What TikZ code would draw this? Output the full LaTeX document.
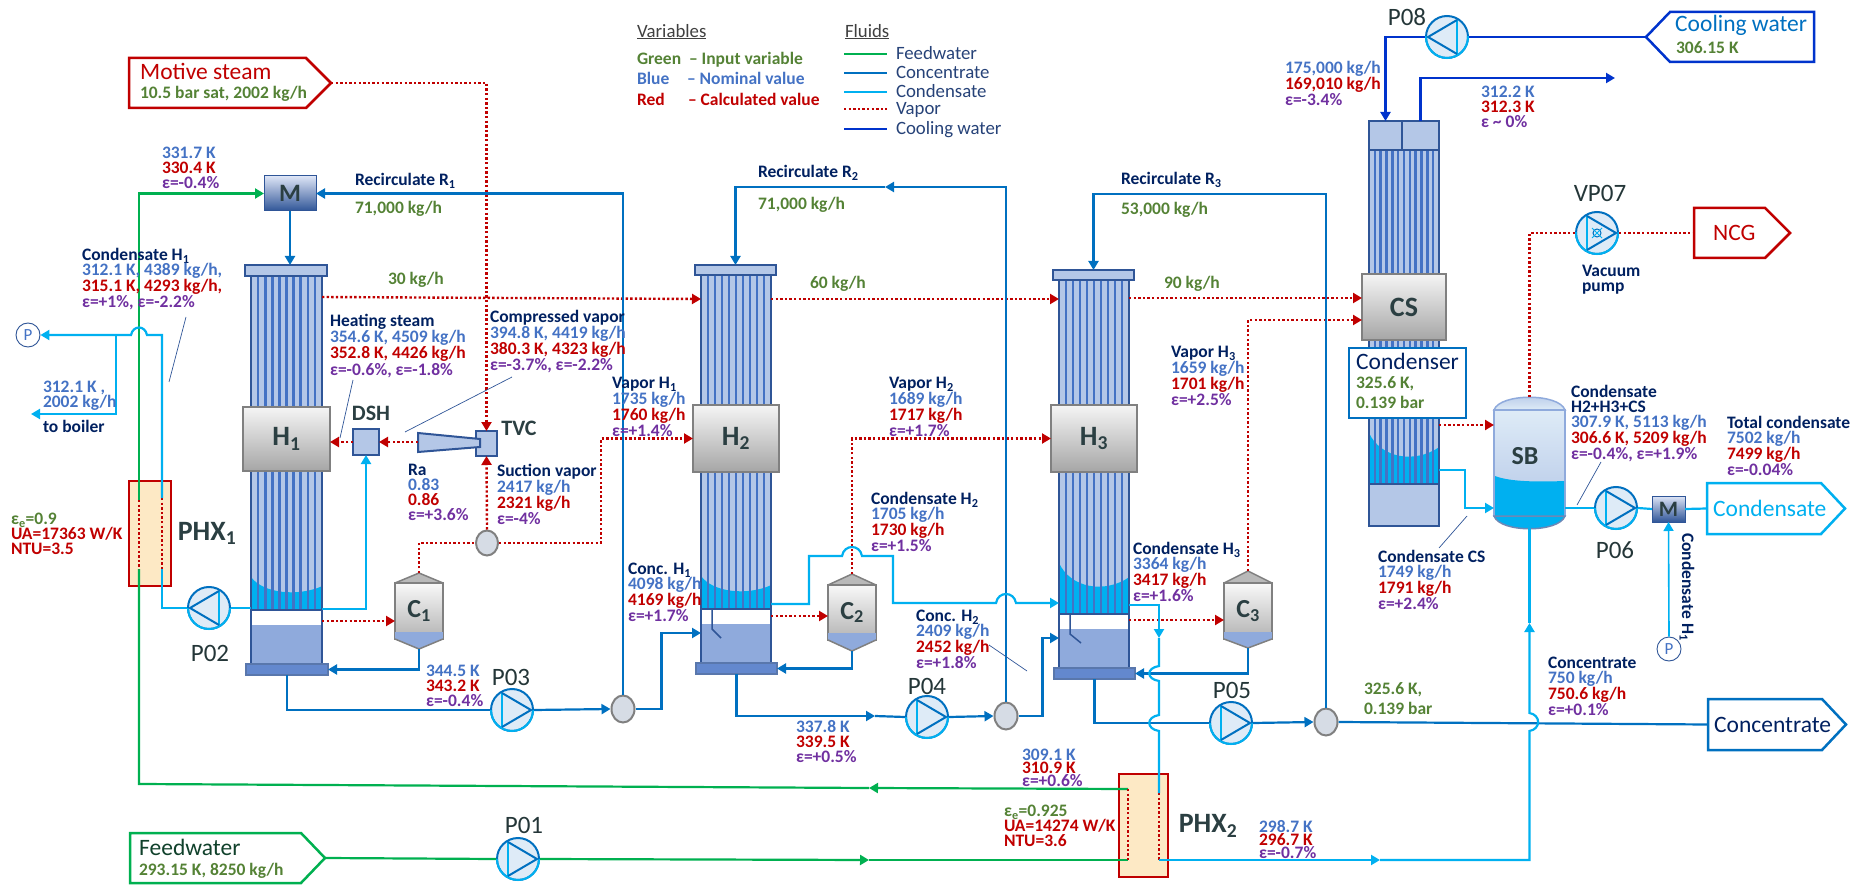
\documentclass[tikz,border=0pt]{standalone}
\usepackage{fontspec}
\setmainfont{Carlito}
\usetikzlibrary{arrows.meta,calc,shapes.geometric}

\definecolor{feedgreen}{HTML}{00B050}
\definecolor{concblue}{HTML}{0070C0}
\definecolor{condcyan}{HTML}{00B0F0}
\definecolor{coolblue}{HTML}{0033CC}
\definecolor{vapred}{HTML}{C00000}
\definecolor{inpgreen}{HTML}{548235}
\definecolor{nomblue}{HTML}{4472C4}
\definecolor{errpurple}{HTML}{7030A0}
\definecolor{navytxt}{HTML}{002060}
\definecolor{eqdark}{HTML}{2B3F42}
\definecolor{edgeblue}{HTML}{2F5597}
\definecolor{tubelight}{HTML}{B4C7E7}
\definecolor{sumpblue}{HTML}{8FAADC}
\definecolor{baseblue}{HTML}{6388CE}
\definecolor{pumpfill}{HTML}{DEEBF7}
\definecolor{splitfill}{HTML}{D6DCE5}

\tikzset{
	feedline/.style={color=feedgreen,line width=2.2pt},
	concline/.style={color=concblue,line width=2.2pt},
	condline/.style={color=condcyan,line width=2.2pt},
	coolline/.style={color=coolblue,line width=2.2pt},
	vapline/.style={color=vapred,line width=2.4pt,dash pattern=on 2.4pt off 2.2pt},
	flow/.style={-{Triangle[length=9pt,width=10pt]}},
	leader/.style={color=edgeblue,line width=0.7pt},
	lbl/.style={anchor=north west,inner sep=0pt,outer sep=0pt,align=left,font=\fontsize{17.5}{15}\selectfont},
	tight/.style={font=\fontsize{17.5}{13}\selectfont},
	wide/.style={font=\fontsize{17.5}{20}\selectfont},
	legtxt/.style={font=\fontsize{18.8}{15}\selectfont},
	bigtxt/.style={anchor=base west,inner sep=0pt,font=\fontsize{23.5}{25}\selectfont},
	tagp/.style={inner sep=0pt,text=eqdark!85!black,font=\fontsize{25}{27}\selectfont},
	eqtxt/.style={inner sep=0pt,text=eqdark,font=\fontsize{28}{30}\selectfont\bfseries},
	headbox/.style={draw=edgeblue,fill=tubelight,line width=2pt},
	basebox/.style={draw=edgeblue!80,fill=baseblue,line width=1.5pt},
	greybox/.style={draw=gray,line width=2pt,top color=gray!8,bottom color=gray!70},
	mixbox/.style={draw=edgeblue,line width=1pt,top color=blue!5!tubelight!40,bottom color=edgeblue},
	splitter/.style={ellipse,draw=gray,fill=splitfill,line width=2pt,inner sep=0pt,minimum width=23pt,minimum height=27pt},
	pumpbody/.style={circle,draw=concblue,fill=pumpfill,line width=2pt,inner sep=0pt,minimum size=42pt},
	probe/.style={circle,draw=edgeblue,fill=white,line width=0.9pt,inner sep=0pt,minimum size=24pt,text=nomblue,font=\fontsize{17}{18}\selectfont},
	hxbox/.style={draw=vapred,fill=yellow!20!orange!20,line width=2.5pt},
}

\newcommand{\boxat}[7]{
	\pgfmathsetmacro\bw{(#5)-(#3)}
	\pgfmathsetmacro\bh{(#6)-(#4)}
	\node[#2,anchor=north west,inner sep=0pt,outer sep=0pt,minimum width=\bw pt,minimum height=\bh pt] (#1) at (#3,#4) {#7};
}
\newcommand{\stack}[5][]{\node[lbl,#1] (#2) at (#3,#4-7.5) {\rule{0pt}{13pt}#5};}
\newcommand{\ttl}[1]{{\color{navytxt}\bfseries #1}}
\newcommand{\nomv}[1]{{\color{nomblue}\bfseries #1}}
\newcommand{\calv}[1]{{\color{vapred}\bfseries #1}}
\newcommand{\errv}[1]{{\color{errpurple}\bfseries #1}}
\newcommand{\inpv}[1]{{\color{inpgreen}\bfseries #1}}
\newcommand{\pump}[4][1]{
	\node[pumpbody] (#2) at (#3,#4) {};
	\begin{scope}
		\clip (#3-25,#4) rectangle (#3+25,#4+25);
		\draw[condcyan,line width=2pt] (#2) circle[radius=21pt];
	\end{scope}
	\begin{scope}[shift={(#2)},xscale=#1]
		\draw[condcyan,line width=2pt] (-10,-17) -- (-10,17);
		\draw[concblue,line width=2pt] (-10,-17) -- (19,0) -- (-10,17);
	\end{scope}
}
\newcommand{\tubes}[7]{
	\boxat{#1}{draw=none,fill=tubelight}{#2}{#3}{#4}{#5}{}
	\fill[condcyan] (#2,#5-#7) .. controls (#2+12,{#5-0.5*#7}) and (#4-24,{#5-0.4*#7}) .. (#4,{#5-0.72*#7}) -- (#4,#5) -- (#2,#5) -- cycle;
	\foreach \i in {1,...,#6}
		\draw[nomblue,line width=2.6pt] ({#2+\i*(#4-#2)/(#6+1)},#3) -- ({#2+\i*(#4-#2)/(#6+1)},#5);
	\draw[edgeblue,line width=2pt] (#2,#3) -- (#2,#5) -- (#4,#5) -- (#4,#3);
}
\newcommand{\effect}[9]{
	\tubes{H#1tube}{#2}{#5}{#3}{#8}{9}{#9}
	\boxat{H#1head}{headbox}{#2-6}{#4}{#3+5}{#5}{}
	\boxat{H#1}{greybox,eqtxt}{#2-8}{#6}{#3+8}{#7}{H\textsubscript{#1}\hspace{10pt}}
	\boxat{H#1sump}{draw=edgeblue,fill=white,line width=2pt}{#2}{#8}{#3}{#8+54}{}
	\fill[sumpblue] (#2+1,#8+15) rectangle (#3-1,#8+53);
	\boxat{H#1base}{basebox}{#2-5}{#8+54}{#3+6}{#8+65}{}
}
\newcommand{\sep}[6]{
	\fill[gray!55] (#2-24,#4) -- (#2,#3) -- (#2+24,#4) -- cycle;
	\draw[gray,line width=1.5pt] (#2-24,#4) -- (#2,#3) -- (#2+24,#4);
	\coordinate (C#1top) at (#2,#3);
	\boxat{C#1}{draw=gray,line width=1.5pt,top color=gray!5,bottom color=gray!60}{#2-24}{#4}{#2+24}{#5}{}
	\fill[sumpblue] (#2-24,#5-7) rectangle (#2+24,#5);
	\fill[sumpblue] (#2-24,#5) -- (#2,#6) -- (#2+24,#5) -- cycle;
	\draw[gray,line width=1.5pt] (#2-24,#5) -- (#2,#6) -- (#2+24,#5);
	\coordinate (C#1bot) at (#2,#6);
	\node[eqtxt,font=\fontsize{26}{28}\selectfont\bfseries] (C#1txt) at (#2,{(#4+#5)/2}) {C\textsubscript{#1}};
}
\newcommand{\outbox}[7]{
	\draw[#2,line width=2.5pt,fill=white] (#3,#4) -- (#5,#4) -- (#6,{(#4+#7)/2}) -- (#5,#7) -- (#3,#7) -- cycle;
	\coordinate (#1) at (#6,{(#4+#7)/2});
	\coordinate (#1b) at (#3,{(#4+#7)/2});
}

\begin{document}
\begin{tikzpicture}[x=1pt,y=-1pt]
	\useasboundingbox (0,0) rectangle (1875,885);

	\effect{1}{251}{322}{265}{276}{407}{471}{610}{33}
	\effect{2}{701}{771}{265}{275}{405}{472}{609}{33}
	\effect{3}{1059}{1129}{270}{280}{405}{472}{614}{51}
	\draw[edgeblue,line width=1.5pt] (712,610) -- (712,629) -- (721,638);
	\draw[edgeblue,line width=1.5pt] (1070,615) -- (1070,634) -- (1081,643);

	\sep{1}{419}{573}{583}{639}{649}
	\sep{2}{852}{574}{585}{640}{651}
	\sep{3}{1248}{571}{583}{639}{648}

	\tubes{CStube}{1369}{150}{1439}{484}{11}{51}
	\boxat{CSh1}{headbox}{1369}{121}{1402}{150}{}
	\boxat{CSh2}{headbox}{1402}{121}{1439}{150}{}
	\boxat{CS}{greybox,eqtxt}{1362}{274}{1446}{340}{CS}
	\boxat{CSsump}{draw=edgeblue,fill=tubelight,line width=2pt}{1369}{484}{1439}{526}{}
	\boxat{Condenser}{draw=concblue,fill=white,line width=2.5pt}{1349}{348}{1466}{418}{}

	\boxat{SB}{draw=none}{1494}{397}{1565}{528}{}
	\draw[sumpblue,line width=1.5pt,top color=tubelight,bottom color=pumpfill] (1494,410) .. controls (1500,393) and (1559,393) .. (1565,410) -- cycle;
	\boxat{SBbody}{draw=sumpblue,line width=2pt,top color=pumpfill,bottom color=tubelight}{1494}{410}{1565}{516}{}
	\fill[condcyan] (1495,476) .. controls (1510,482) and (1540,482) .. (1564,481) -- (1564,516) -- (1495,516) -- cycle;
	\draw[edgeblue!70,line width=1.5pt,fill=condcyan] (1494,516) .. controls (1500,533) and (1559,533) .. (1565,516) -- cycle;
	\node[eqtxt,font=\fontsize{26}{28}\selectfont\bfseries] (SBtxt) at (1525,456) {SB};

	\boxat{M1}{mixbox,eqtxt,font=\fontsize{25}{27}\selectfont\bfseries}{264}{176}{316}{211}{M}
	\boxat{M2}{mixbox,eqtxt,font=\fontsize{22}{24}\selectfont\bfseries}{1652}{496}{1685}{522}{M}
	\boxat{DSH}{headbox}{353}{429}{379}{455}{}
	\boxat{TVC}{headbox}{476}{431}{497}{456}{}
	\draw[headbox] (418,433) -- (480,439) -- (480,447) -- (418,452) -- cycle;
	\coordinate (NZ) at (418,442);
	\boxat{PHX1}{hxbox}{129}{481}{171}{586}{}
	\boxat{PHX2}{hxbox}{1119}{774}{1168}{877}{}

	\outbox{bMotive}{vapred}{129}{58}{306}{331}{108}
	\outbox{bFeed}{feedgreen}{130}{833}{301}{325}{883}
	\outbox{bConc}{concblue}{1708}{699}{1822}{1846}{750}
	\outbox{bCond}{condcyan}{1707}{483}{1821}{1845}{534}
	\outbox{bNCG}{vapred}{1694}{208}{1765}{1790}{258}
	\draw[coolblue,line width=2.5pt] (1814,12) -- (1670,12) -- (1646,37) -- (1670,62) -- (1814,62) -- cycle;
	\coordinate (bCool) at (1646,37);

	\pump{P01}{518}{859}
	\pump[-1]{P02}{209}{608}
	\pump{P03}{512}{710}
	\pump{P04}{927}{717}
	\pump{P05}{1231}{723}
	\pump{P06}{1616}{508}
	\pump[-1]{P08}{1447}{37}
	\pump{VP07}{1597}{233}
	\draw[concblue,line width=1pt] (VP07) circle[radius=4pt];
	\draw[condcyan,line width=1pt] (1592,228) -- (1602,238) (1592,238) -- (1602,228);

	\node[splitter,minimum width=22pt,minimum height=25pt] (S0) at (487,543) {};
	\node[splitter] (SR1) at (623,709) {};
	\node[splitter] (SR2) at (1006,716) {};
	\node[splitter] (SR3) at (1326,722) {};
	\node[probe] (Pout) at (28,335) {P};
	\node[probe] (Pin) at (1669,649) {P};

	\coordinate (PHX1fo) at (139,500);
	\coordinate (PHX1fi) at (139,569);
	\coordinate (PHX1co) at (162,498);
	\coordinate (PHX1ci) at (162,569);
	\coordinate (PHX2fo) at (1128,789);
	\coordinate (PHX2fi) at (1128,860);
	\coordinate (PHX2ci) at (1159,793);
	\coordinate (PHX2co) at (1159,860);

	\draw[feedline] (bFeed) -- (P01.west);
	\coordinate (fa) at (869,860);
	\draw[feedline,flow] (P01.east) -- (fa);
	\draw[feedline] (fa) -- (PHX2fi);
	\coordinate (fb) at (869,788);
	\draw[feedline,flow] (PHX2fo) -- (fb);
	\draw[feedline] (fb) -- (139,784) -- (PHX1fi);
	\draw[feedline,flow] (PHX1fo) |- (M1.west);

	\foreach \a/\b in {PHX1fo/PHX1fi,PHX1co/PHX1ci,PHX2fo/PHX2fi,PHX2ci/PHX2co}
		\draw[vapline] (\a) -- (\b);

	\draw[vapline,flow] (bMotive) -| (TVC.north);
	\draw[vapline,flow] (H1tube.east |- 0,297) -- (H2tube.west |- 0,299);
	\draw[vapline,flow] (H2tube.east |- 0,299) -- (H3tube.west |- 0,299);
	\draw[vapline,flow] (H3tube.east |- 0,298) -- (CS.west |- 0,298);
	\draw[vapline,flow] (NZ) -- (DSH.east |- NZ);
	\draw[vapline,flow] (DSH.west |- NZ) -- (H1.east |- NZ);
	\draw[vapline,flow] (S0.north) -- (TVC.south);
	\draw[vapline] (C1top) |- (S0.west);
	\draw[vapline,flow] (S0.east) -- (601,543) |- (H2.west);
	\draw[vapline,flow] (C2top) |- (H3.west);
	\draw[vapline,flow] (C3top) |- (CS.west |- 0,320);
	\draw[vapline,flow] (H1sump.east |- 0,621) -- (C1.west |- 0,621);
	\draw[vapline,flow] (H2sump.east |- 0,616) -- (C2.west |- 0,616);
	\draw[vapline,flow] (H3sump.east |- 0,620) -- (C3.west |- 0,620);
	\draw[vapline,flow] (CStube.east |- 0,425) -- (SB.west |- 0,425);
	\draw[vapline] (SB.north) |- (VP07.west);
	\draw[vapline] (VP07.east) -- (bNCGb);

	\draw[concline,flow] (M1.south) -- (M1.south |- H1head.north);
	\draw[concline,flow] (SR1.north) |- (M1.east);
	\coordinate (ra) at (885,187);
	\draw[concline,flow] (SR2.north) |- (ra);
	\draw[concline,flow] (ra) -| (H2head.north);
	\draw[concline,flow] (SR3.north) |- (H3head.north |- 0,194) -- (H3head.north);
	\draw[concline] (H1base.south) |- (P03.west);
	\draw[concline,flow] (P03.east) -- (SR1.west);
	\draw[concline,flow] (SR1.east) -- ++(26,0) |- (H2sump.west |- 0,633);
	\coordinate (pa) at (875,716);
	\draw[concline,flow] (H2base.south) |- (pa);
	\draw[concline] (pa) -- (P04.west);
	\draw[concline,flow] (P04.east) -- (SR2.west);
	\draw[concline,flow] (SR2.east) -- ++(24,0) |- (H3sump.west |- 0,638);
	\draw[concline] (H3base.south) |- (P05.west);
	\draw[concline,flow] (P05.east) -- (SR3.west);
	\draw[concline] (SR3.east) -- (bConcb);
	\draw[concline,flow] (C1bot) |- (H1base.east);
	\draw[concline,flow] (C2bot) |- (H2base.east);
	\draw[concline,flow] (C3bot) |- (H3base.east);

	\draw[condline] (H1tube.west |- P02.east) -- (P02.east);
	\draw[condline] (P02.west) -| (PHX1ci);
	\coordinate (ba) at (116,335);
	\draw[condline,flow] (PHX1co) -- (162,335) -- (147,335) .. controls (145,325) and (133,325) .. (131,335) -- (Pout.east);
	\draw[condline,flow] (ba) |- (31,414);
	\draw[condline,flow] (H1tube.east |- 0,609) -| (DSH.south);
	\draw[condline,flow] (H2tube.east |- 0,604) -- (809,604) -- (809,556) -- (842,556) .. controls (844,544) and (860,544) .. (862,556) -- (893,556) -- (893,603) -- (996,603) .. controls (998,591) and (1014,591) .. (1016,603) -- (H3tube.west |- 0,603);
	\coordinate (ca) at (1159,638);
	\draw[condline,flow] (H3tube.east |- 0,605) -| (ca);
	\draw[condline] (ca) -- (1159,666) .. controls (1146,668) and (1146,679) .. (1159,681) -- (1159,715) .. controls (1146,717) and (1146,729) .. (1159,731) -- (PHX2ci);
	\coordinate (cb) at (1380,860);
	\draw[condline,flow] (PHX2co) -- (cb);
	\coordinate (cc) at (1529.5,623);
	\draw[condline,flow] (cb) -- (1529.5,860) -- (1529.5,731) .. controls (1541,729) and (1541,715) .. (1529.5,713) -- (cc);
	\draw[condline] (cc) -- (SB.south);
	\draw[condline,flow] (CStube.east |- 0,470) -- (1465,470) |- (SB.west |- 0,508);
	\draw[condline] (SB.east |- P06.west) -- (P06.west);
	\draw[condline] (P06.east) -- (M2.west);
	\draw[condline] (M2.east) -- (bCondb);
	\draw[condline,line width=1.6pt,flow] (Pin.north) -- (M2.south);

	\draw[coolline] (bCool) -- (P08.east);
	\coordinate (wa) at (1615,78);
	\draw[coolline,flow] (P08.west) -| (CSh1.north);
	\draw[coolline,flow] (CSh2.north) |- (wa);

	\coordinate (ld1a) at (186,317);
	\coordinate (ld1b) at (169,382);
	\coordinate (ld2a) at (353,380);
	\coordinate (ld2b) at (340,438);
	\coordinate (ld3a) at (512,377);
	\coordinate (ld3b) at (405,432);
	\coordinate (ld4a) at (989,645);
	\coordinate (ld4b) at (1027,671);
	\coordinate (ld5a) at (1467,516);
	\coordinate (ld5b) at (1439,548);
	\coordinate (ld6a) at (1601,462);
	\coordinate (ld6b) at (1577,505);
	\foreach \i in {1,...,6}
		\draw[leader] (ld\i a) -- (ld\i b);

	\node[bigtxt,text=vapred] (tMotive) at (140,80) {Motive steam};
	\stack{tMotiveA}{140}{93}{\inpv{10.5 bar sat, 2002 kg/h}}
	\node[bigtxt,text=eqdark!60!feedgreen!60!black] (tFeed) at (139,855) {Feedwater};
	\stack{tFeedA}{139}{870}{\inpv{293.15 K, 8250 kg/h}}
	\node[bigtxt,text=navytxt] (tConc) at (1714,732) {Concentrate};
	\node[bigtxt,text=condcyan] (tCond) at (1713,516) {Condensate};
	\node[bigtxt,text=vapred] (tNCG) at (1713,241) {NCG};
	\node[bigtxt,text=concblue] (tCool) at (1675,32) {Cooling water};
	\stack{tCoolA}{1676}{48}{\inpv{306.15 K}}
	\node[bigtxt,text=navytxt] (tCondenser) at (1356,370) {Condenser};
	\stack[wide]{tCondA}{1356}{383}{\inpv{325.6 K,}\\\inpv{0.139 bar}}

	\node[eqtxt] (tPHX1) at (207,533) {PHX\textsubscript{1}};
	\node[eqtxt] (tPHX2) at (1208,826) {PHX\textsubscript{2}};
	\node[eqtxt,font=\fontsize{22}{24}\selectfont\bfseries] (tDSH) at (371,413) {DSH};
	\node[eqtxt,font=\fontsize{22}{24}\selectfont\bfseries] (tTVC) at (519,428) {TVC};
	\foreach \n/\x/\y in {P01/524/825,P02/210/653,P03/511/677,P04/927/686,P05/1232/690,P06/1615/550,P08/1407/17,VP07/1600/193}
		\node[tagp] (t\n) at (\x,\y) {\n};

	\stack{lb01}{162}{153}{\nomv{331.7 K}\\\calv{330.4 K}\\\errv{ε=-0.4\%}}
	\stack{lb02}{355}{180}{\ttl{Recirculate R\textsubscript{1}}}
	\stack{lb03}{355}{208}{\inpv{71,000 kg/h}}
	\stack{lb04}{388}{279}{\inpv{30 kg/h}}
	\stack{lb05}{82}{255}{\ttl{Condensate H\textsubscript{1}}\\\nomv{312.1 K, 4389 kg/h,}\\\calv{315.1 K, 4293 kg/h,}\\\errv{ε=+1\%, ε=-2.2\%}}
	\stack{lb06}{330}{321}{\ttl{Heating steam}\\\nomv{354.6 K, 4509 kg/h}\\\calv{352.8 K, 4426 kg/h}\\\errv{ε=-0.6\%, ε=-1.8\%}}
	\stack{lb07}{490}{317}{\ttl{Compressed vapor}\\\nomv{394.8 K, 4419 kg/h}\\\calv{380.3 K, 4323 kg/h}\\\errv{ε=-3.7\%, ε=-2.2\%}}
	\stack{lb08}{43}{387}{\nomv{312.1 K ,}\\\nomv{2002 kg/h}}
	\stack{lb09}{43}{427}{\ttl{to boiler}}
	\stack{lb10}{612}{383}{\ttl{Vapor H\textsubscript{1}}\\\nomv{1735 kg/h}\\\calv{1760 kg/h}\\\errv{ε=+1.4\%}}
	\stack{lb11}{889}{383}{\ttl{Vapor H\textsubscript{2}}\\\nomv{1689 kg/h}\\\calv{1717 kg/h}\\\errv{ε=+1.7\%}}
	\stack{lb12}{1171}{352}{\ttl{Vapor H\textsubscript{3}}\\\nomv{1659 kg/h}\\\calv{1701 kg/h}\\\errv{ε=+2.5\%}}
	\stack{lb13}{408}{470}{\ttl{Ra}\\\nomv{0.83}\\\calv{0.86}\\\errv{ε=+3.6\%}}
	\stack{lb14}{497}{471}{\ttl{Suction vapor}\\\nomv{2417 kg/h}\\\calv{2321 kg/h}\\\errv{ε=-4\%}}
	\stack{lb15}{11}{519}{\inpv{ε\textsubscript{e}=0.9}\\\calv{UA=17363 W/K}\\\calv{NTU=3.5}}
	\stack{lb16}{426}{671}{\nomv{344.5 K}\\\calv{343.2 K}\\\errv{ε=-0.4\%}}
	\stack{lb17}{628}{569}{\ttl{Conc. H\textsubscript{1}}\\\nomv{4098 kg/h}\\\calv{4169 kg/h}\\\errv{ε=+1.7\%}}
	\stack{lb18}{871}{499}{\ttl{Condensate H\textsubscript{2}}\\\nomv{1705 kg/h}\\\calv{1730 kg/h}\\\errv{ε=+1.5\%}}
	\stack{lb19}{916}{616}{\ttl{Conc. H\textsubscript{2}}\\\nomv{2409 kg/h}\\\calv{2452 kg/h}\\\errv{ε=+1.8\%}}
	\stack{lb20}{1133}{549}{\ttl{Condensate H\textsubscript{3}}\\\nomv{3364 kg/h}\\\calv{3417 kg/h}\\\errv{ε=+1.6\%}}
	\stack{lb21}{796}{727}{\nomv{337.8 K}\\\calv{339.5 K}\\\errv{ε=+0.5\%}}
	\stack[tight]{lb22}{1022}{755}{\nomv{309.1 K}\\\calv{310.9 K}\\\errv{ε=+0.6\%}}
	\stack{lb23}{1004}{811}{\inpv{ε\textsubscript{e}=0.925}\\\calv{UA=14274 W/K}\\\calv{NTU=3.6}}
	\stack[tight]{lb24}{1259}{827}{\nomv{298.7 K}\\\calv{296.7 K}\\\errv{ε=-0.7\%}}
	\stack{lb25}{758}{172}{\ttl{Recirculate R\textsubscript{2}}}
	\stack{lb26}{758}{204}{\inpv{71,000 kg/h}}
	\stack{lb27}{810}{283}{\inpv{60 kg/h}}
	\stack{lb28}{1121}{179}{\ttl{Recirculate R\textsubscript{3}}}
	\stack{lb29}{1121}{209}{\inpv{53,000 kg/h}}
	\stack{lb30}{1164}{283}{\inpv{90 kg/h}}
	\stack{lb31}{1285}{68}{\nomv{175,000 kg/h}\\\calv{169,010 kg/h}\\\errv{ε=-3.4\%}}
	\stack{lb32}{1481}{92}{\nomv{312.2 K}\\\calv{312.3 K}\\\errv{ε \textasciitilde{} 0\%}}
	\stack{lb33}{1582}{271}{\ttl{Vacuum}\\\ttl{pump}}
	\stack{lb34}{1571}{392}{\ttl{Condensate}\\\ttl{H2+H3+CS}\\\nomv{307.9 K, 5113 kg/h}\\\calv{306.6 K, 5209 kg/h}\\\errv{ε=-0.4\%, ε=+1.9\%}}
	\stack{lb35}{1727}{423}{\ttl{Total condensate}\\\nomv{7502 kg/h}\\\calv{7499 kg/h}\\\errv{ε=-0.04\%}}
	\stack{lb36}{1378}{557}{\ttl{Condensate CS}\\\nomv{1749 kg/h}\\\calv{1791 kg/h}\\\errv{ε=+2.4\%}}
	\stack{lb37}{1548}{663}{\ttl{Concentrate}\\\nomv{750 kg/h}\\\calv{750.6 kg/h}\\\errv{ε=+0.1\%}}
	\stack[wide]{lb38}{1364}{689}{\inpv{325.6 K,}\\\inpv{0.139 bar}}
	\node[lbl,anchor=center,rotate=-90] (lb39) at (1687,587) {\ttl{Condensate H\textsubscript{1}}};

	\node[lbl,legtxt,text=black!75] (lgA) at (637,24) {\underline{Variables}};
	\stack{lgB}{637}{59}{\inpv{Green}}
	\stack{lgC}{637}{79}{\nomv{Blue}}
	\stack{lgD}{637}{100}{\calv{Red}}
	\stack{lgE}{689}{59}{\inpv{– Input variable}}
	\stack{lgF}{687}{79}{\nomv{– Nominal value}}
	\stack{lgG}{688}{100}{\calv{– Calculated value}}
	\node[lbl,legtxt,text=black!75] (lgH) at (845,24) {\underline{Fluids}};
	\foreach \y/\sty/\txt in {54/feedline/Feedwater,73/concline/Concentrate,92/condline/Condensate,109/vapline/Vapor,129/coolline/Cooling water}{
		\draw[\sty] (844,\y) -- (887,\y);
		\stack[legtxt]{lf\y}{896}{\y}{\color{navytxt!85}\txt}
	}
\end{tikzpicture}
\end{document}
